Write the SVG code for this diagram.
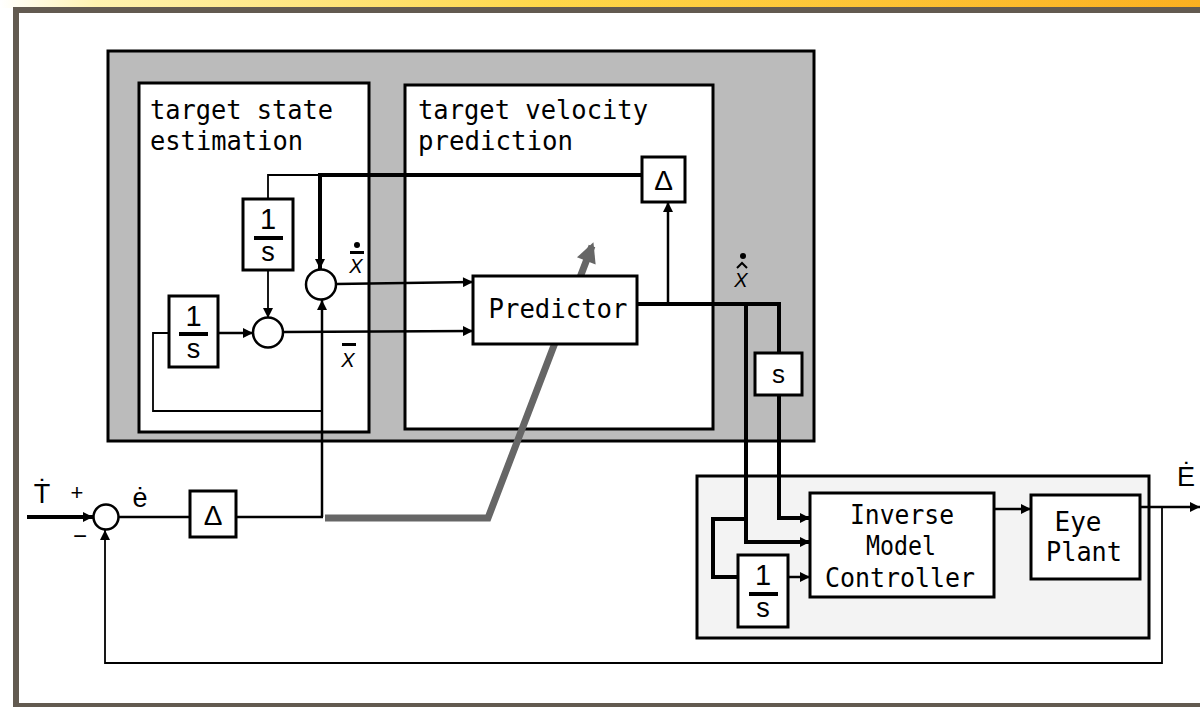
<svg xmlns="http://www.w3.org/2000/svg" width="1200" height="707" viewBox="0 0 1200 707">
<style>
.box{fill:#fff;stroke:#000;stroke-width:3}
.ln{fill:none;stroke:#000;stroke-width:2.5}
.thin{fill:none;stroke:#000;stroke-width:1.8}
.thk{fill:none;stroke:#000;stroke-width:4}
.lbl{font-family:"DejaVu Sans Mono","Liberation Mono",monospace;font-size:26px;fill:#000}
.bt{font-family:"DejaVu Sans Mono","Liberation Mono",monospace;font-size:26px;fill:#000;text-anchor:middle}
.sf{font-family:"Liberation Sans",Arial,sans-serif;fill:#000;text-anchor:middle}
.it{font-family:"Liberation Sans",Arial,sans-serif;font-style:italic;font-size:20px;fill:#000;text-anchor:middle}
</style>
<defs>
<linearGradient id="top" x1="0" y1="0" x2="1" y2="0">
<stop offset="0" stop-color="#ffffff"/>
<stop offset="0.08" stop-color="#fff3b0"/>
<stop offset="0.45" stop-color="#ffd84a"/>
<stop offset="1" stop-color="#fbb020"/>
</linearGradient>
<marker id="ah" viewBox="0 0 10 10" refX="10" refY="5" markerWidth="14" markerHeight="10" markerUnits="userSpaceOnUse" orient="auto">
<path d="M0,0 L10,5 L0,10 z" fill="#000"/>
</marker>
<marker id="gah" viewBox="0 0 10 10" refX="8" refY="5" markerWidth="26" markerHeight="20" markerUnits="userSpaceOnUse" orient="auto">
<path d="M0,0 L10,5 L0,10 z" fill="#666"/>
</marker>
</defs>

<!-- frame -->
<rect x="0" y="0" width="1200" height="707" fill="#fff"/>
<rect x="0" y="0" width="1200" height="8" fill="url(#top)"/>
<rect x="13" y="7" width="1187" height="6" fill="#625a50"/>
<rect x="13" y="7" width="6" height="700" fill="#625a50"/>
<rect x="13" y="703" width="1187" height="4" fill="#625a50"/>

<g id="outer-block">
<rect x="108" y="51" width="706" height="390" fill="#bbbbbb" stroke="#000" stroke-width="3"/>
</g>
<g id="target-state-estimation">
<rect class="box" x="139" y="83" width="230" height="349"/>
<text class="lbl" x="150" y="119" textLength="183" lengthAdjust="spacingAndGlyphs">target state</text>
<text class="lbl" x="150" y="150" textLength="153" lengthAdjust="spacingAndGlyphs">estimation</text>
</g>
<g id="target-velocity-prediction">
<rect class="box" x="405" y="85" width="308" height="344"/>
<text class="lbl" x="418" y="119" textLength="230" lengthAdjust="spacingAndGlyphs">target velocity</text>
<text class="lbl" x="418" y="150" textLength="155" lengthAdjust="spacingAndGlyphs">prediction</text>
</g>
<g id="controller-block">
<rect x="697" y="476" width="452" height="162" fill="#f3f3f3" stroke="#000" stroke-width="3"/>
</g>

<g id="connectors">
<line class="thk" x1="27" y1="517" x2="93" y2="517" marker-end="url(#ah)"/>
<path class="thin" d="M1162,507 V663 H105 V530" marker-end="url(#ah)"/>
<line class="ln" x1="119" y1="517" x2="190" y2="517"/>
<line class="ln" x1="236" y1="517" x2="323" y2="517"/>
<line class="ln" x1="322" y1="517" x2="322" y2="300" marker-end="url(#ah)"/>
<path class="thin" d="M322,411 H153 V333 H169"/>
<line class="ln" x1="218" y1="333" x2="253" y2="333" marker-end="url(#ah)"/>
<line class="ln" x1="283" y1="332" x2="473" y2="331" marker-end="url(#ah)"/>
<line class="ln" x1="336" y1="284" x2="473" y2="282" marker-end="url(#ah)"/>
<path class="thk" d="M637,304 H779 V353"/>
<line class="ln" x1="668" y1="304" x2="668" y2="202" marker-end="url(#ah)"/>
<path class="thk" d="M642,175 H320 V269" marker-end="url(#ah)"/>
<path class="thin" d="M320,175 H268 V199"/>
<line class="thin" x1="268" y1="270" x2="268" y2="318" marker-end="url(#ah)"/>
<path class="thk" d="M746,304 V542 H810" marker-end="url(#ah)"/>
<path class="thk" d="M779,395 V518 H810" marker-end="url(#ah)"/>
<path class="thk" d="M746,519 H713 V577 H738"/>
<line class="ln" x1="788" y1="577" x2="810" y2="577" marker-end="url(#ah)"/>
<line class="ln" x1="994" y1="509" x2="1031" y2="509" marker-end="url(#ah)"/>
<line class="ln" x1="1140" y1="507" x2="1200" y2="507" marker-end="url(#ah)"/>
<path d="M325,518 H488 L592,246" fill="none" stroke="#666" stroke-width="7" marker-end="url(#gah)"/>
</g>

<g id="sum-error">
<circle cx="106" cy="517" r="12.5" fill="#fff" stroke="#000" stroke-width="2.5"/>
</g>
<g id="sum-velocity">
<circle cx="321" cy="284.5" r="15" fill="#fff" stroke="#000" stroke-width="2.5"/>
</g>
<g id="sum-position">
<circle cx="268" cy="332.5" r="15" fill="#fff" stroke="#000" stroke-width="2.5"/>
</g>
<g id="delta-error">
<rect class="box" x="190" y="491" width="46" height="46"/>
<text class="sf" x="213" y="525" font-size="28">Δ</text>
</g>
<g id="integrator-upper">
<rect class="box" x="243" y="199" width="50" height="71"/>
<text class="sf" x="268" y="229" font-size="29">1</text>
<rect x="254" y="236" width="29" height="4" fill="#000"/>
<text class="sf" x="268" y="261" font-size="27">s</text>
</g>
<g id="integrator-lower">
<rect class="box" x="169" y="296" width="49" height="71"/>
<text class="sf" x="193.5" y="326" font-size="29">1</text>
<rect x="179" y="332" width="29" height="4" fill="#000"/>
<text class="sf" x="193.5" y="358" font-size="27">s</text>
</g>
<g id="predictor">
<rect class="box" x="473" y="276" width="164" height="68"/>
<text class="bt" x="558" y="318" font-size="29" textLength="139" lengthAdjust="spacingAndGlyphs">Predictor</text>
</g>
<g id="delta-predict">
<rect class="box" x="642" y="157" width="43" height="45"/>
<text class="sf" x="663.5" y="190" font-size="28">Δ</text>
</g>
<g id="diff-s">
<rect class="box" x="755" y="353" width="47" height="42"/>
<text class="sf" x="778.5" y="383" font-size="26">s</text>
</g>
<g id="integrator-ctrl">
<rect class="box" x="738" y="555" width="50" height="72"/>
<text class="sf" x="763" y="585" font-size="29">1</text>
<rect x="749" y="592" width="29" height="4" fill="#000"/>
<text class="sf" x="763" y="617" font-size="27">s</text>
</g>
<g id="inverse-model-controller">
<rect class="box" x="810" y="493" width="184" height="104"/>
<text class="bt" x="902" y="524" textLength="104" lengthAdjust="spacingAndGlyphs">Inverse</text>
<text class="bt" x="901" y="555" textLength="70" lengthAdjust="spacingAndGlyphs">Model</text>
<text class="bt" x="900" y="587" textLength="150" lengthAdjust="spacingAndGlyphs">Controller</text>
</g>
<g id="eye-plant">
<rect class="box" x="1031" y="495" width="109" height="84"/>
<text class="bt" x="1078" y="531">Eye</text>
<text class="bt" x="1084" y="561" textLength="76" lengthAdjust="spacingAndGlyphs">Plant</text>
</g>

<g id="labels">
<text class="sf" x="42" y="503" font-size="27">Ṫ</text>
<text class="sf" x="77" y="500" font-size="22">+</text>
<text class="sf" x="80" y="544" font-size="24">−</text>
<text class="sf" x="140" y="507" font-size="27">ė</text>
<text class="sf" x="1186" y="486" font-size="27">Ė</text>
<circle cx="357" cy="245" r="3" fill="#000"/>
<rect x="350" y="251" width="14" height="3" fill="#000"/>
<text class="it" x="356" y="273">X</text>
<rect x="342" y="343" width="14" height="3" fill="#000"/>
<text class="it" x="348" y="367">X</text>
<circle cx="743" cy="256" r="3" fill="#000"/>
<path d="M737,268 L742,263 L747,268" fill="none" stroke="#000" stroke-width="2"/>
<text class="it" x="741" y="287">X</text>
</g>
</svg>
